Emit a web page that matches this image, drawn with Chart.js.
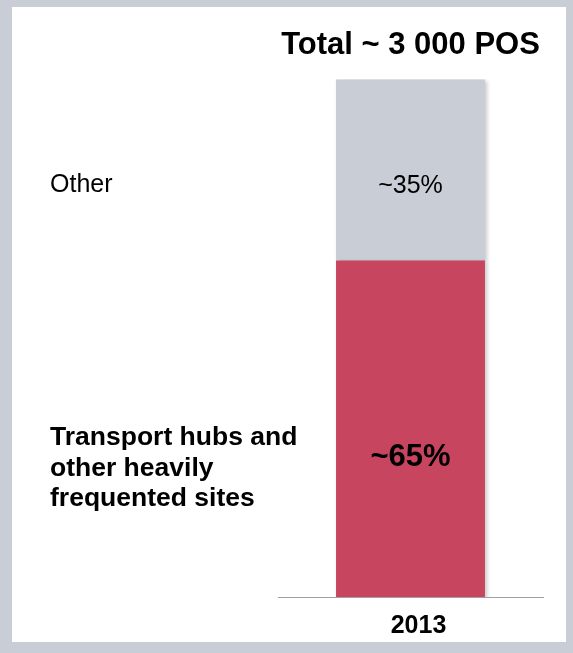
<!DOCTYPE html>
<html>
<head>
<meta charset="utf-8">
<script src="https://cdn.jsdelivr.net/npm/chart.js@4"></script>
<style>
  html, body { margin: 0; padding: 0; }
  body { width: 573px; height: 653px; background: #c8cdd6; position: relative; overflow: hidden; }
  #panel { position: absolute; left: 12px; top: 7px; width: 554px; height: 635px; background: #fff; }
  #posChart { display: block; }
</style>
</head>
<body>
<div id="panel"><canvas id="posChart" width="554" height="635"></canvas></div>
<script>
// data
const categories = ["2013"];
const chartTitle = "Total ~ 3 000 POS";
const transportShare = [65];
const otherShare = [35];
const transportLabel = ["Transport hubs and", "other heavily", "frequented sites"];
const otherLabel = ["Other"];
const transportValueText = ["~65%"];
const otherValueText = ["~35%"];

const FONT = "'Liberation Sans', Arial, sans-serif";

// soft shadow round the bar
const barShadow = {
  id: "barShadow",
  beforeDatasetsDraw(chart) {
    const ctx = chart.ctx;
    ctx.save();
    ctx.shadowColor = "rgba(0,0,0,0.22)";
    ctx.shadowBlur = 4;
    ctx.shadowOffsetX = 2;
    ctx.shadowOffsetY = 2;
  },
  afterDatasetsDraw(chart) {
    chart.ctx.restore();
  },
};

// value inside the bar + series name on the left
const sideText = {
  id: "sideText",
  afterDatasetsDraw(chart) {
    const ctx = chart.ctx;
    chart.data.datasets.forEach((ds, i) => {
      const bar = chart.getDatasetMeta(i).data[0];
      const top = Math.min(bar.y, bar.base);
      const bottom = Math.max(bar.y, bar.base);
      const y = top + (bottom - top) * 0.58;

      ctx.save();
      ctx.fillStyle = "#000";
      ctx.textBaseline = "middle";

      ctx.textAlign = "center";
      ctx.font = ds.valueFont;
      ctx.fillText(ds.valueText[0], bar.x, y + 2);

      ctx.textAlign = "left";
      ctx.font = ds.sideFont;
      const n = ds.sideLines.length;
      const yMid = n > 1 ? y + 13 : y + 1;
      ds.sideLines.forEach((line, k) => {
        ctx.fillText(line, 38, yMid + (k - (n - 1) / 2) * 30.5);
      });
      ctx.restore();
    });
  },
};

new Chart(document.getElementById("posChart"), {
  type: "bar",
  data: {
    labels: categories,
    datasets: [
      {
        label: transportLabel.join(" "),
        data: transportShare,
        backgroundColor: "#c8455f",
        valueText: transportValueText,
        valueFont: "bold 31px " + FONT,
        sideLines: transportLabel,
        sideFont: "bold 26.5px " + FONT,
      },
      {
        label: otherLabel.join(" "),
        data: otherShare,
        backgroundColor: "#c8cdd6",
        valueText: otherValueText,
        valueFont: "25px " + FONT,
        sideLines: otherLabel,
        sideFont: "25px " + FONT,
      },
    ],
  },
  options: {
    responsive: false,
    animation: false,
    devicePixelRatio: 1,
    layout: { padding: { left: 266, right: 23, top: 0, bottom: 0 } },
    datasets: {
      bar: { barPercentage: 1, categoryPercentage: 0.562, borderWidth: 0 },
    },
    plugins: {
      legend: { display: false },
      tooltip: { enabled: false },
      title: {
        display: true,
        text: chartTitle,
        color: "#000",
        font: { family: FONT, size: 31, weight: "bold", lineHeight: 1.2 },
        padding: { top: 20, bottom: 15 },
      },
    },
    scales: {
      x: {
        stacked: true,
        grid: { display: false, drawTicks: false },
        border: { display: true, color: "#a0a0a0", width: 1 },
        ticks: {
          color: "#000",
          padding: 14,
          labelOffset: 8,
          font: { family: FONT, size: 25, weight: "bold" },
        },
        afterFit(scale) { scale.height = 45; },
      },
      y: {
        stacked: true,
        display: false,
        min: 0,
        max: 100,
      },
    },
  },
  plugins: [barShadow, sideText],
});
</script>
</body>
</html>
